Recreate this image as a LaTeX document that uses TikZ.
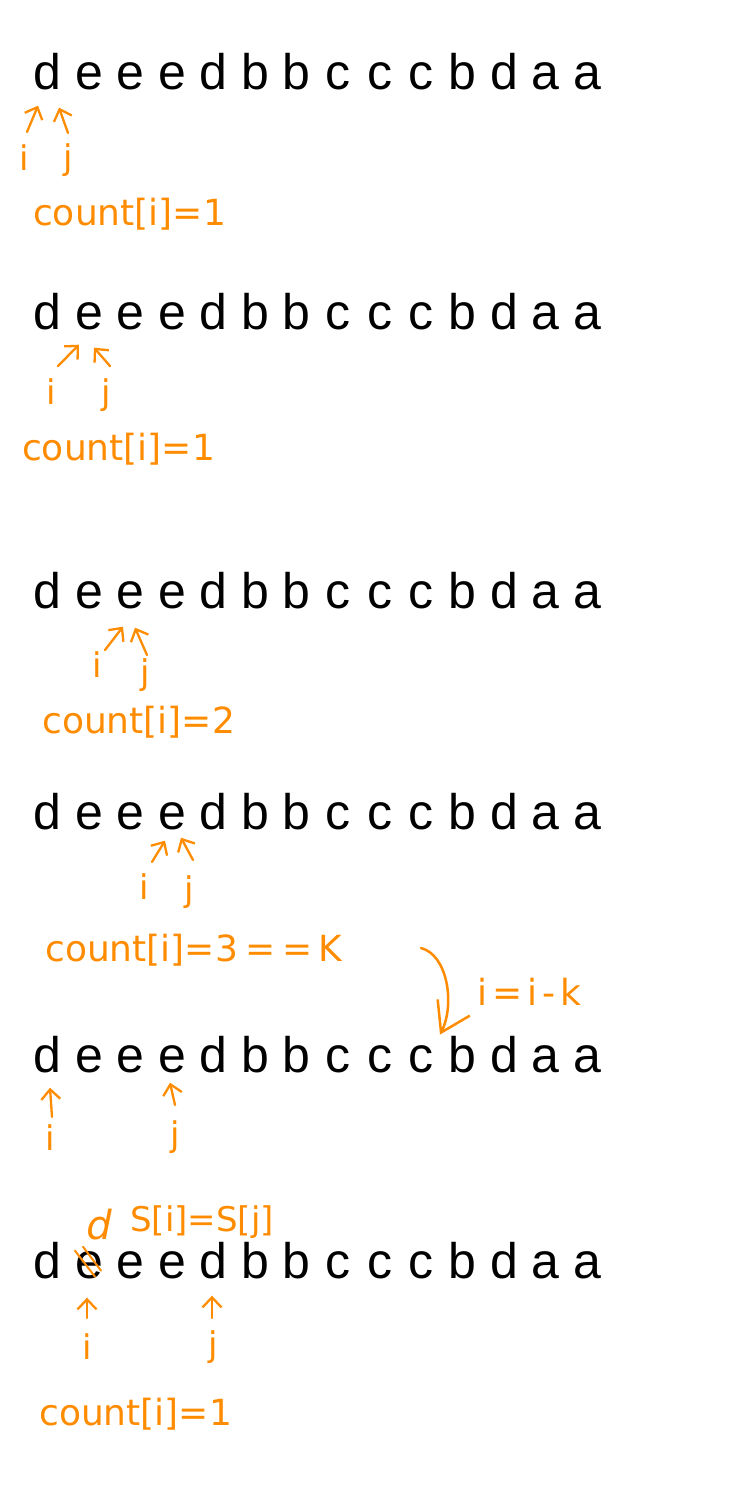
\documentclass[tikz,border=0pt]{standalone}
\usepackage{fontspec}
\setmainfont{Liberation Sans}
\newfontfamily\handfont{DejaVu Sans}
\usetikzlibrary{arrows.meta,calc}
\definecolor{hcol}{RGB}{255,140,0}

\begin{document}
\begin{tikzpicture}[x=1pt,y=-1pt,
        chr/.style={anchor=base,inner sep=0pt,font=\fontsize{50}{60}\selectfont},
        hw/.style={text=hcol,inner sep=0pt,font=\handfont\fontsize{36}{42}\selectfont},
        lbl/.style={text=hcol,inner sep=0pt,font=\handfont\fontsize{34}{40}\selectfont},
        ptr/.style={hcol,line width=2.3pt,line cap=round,-{Straight Barb[length=10pt,width=19pt]}},
        bigptr/.style={hcol,line width=2.5pt,line cap=round,-{Straight Barb[length=28pt,width=36pt]}}]
        \useasboundingbox (0,0) rectangle (732,1500);
        \foreach \r/\y in {1/89,2/329,3/608,4/829,5/1072,6/1278}
            \foreach \c [count=\k from 0] in {d,e,e,e,d,b,b,c,c,c,b,d,a,a}
                \node[chr] (r\r-\k) at (47.5+41.5*\k,\y) {\c};
        \node[lbl] (i1) at (24,158) {i};
        \node[lbl] (j1) at (68,160) {j};
        \node[lbl] (i2) at (51,392) {i};
        \node[lbl] (j2) at (106,395) {j};
        \node[lbl] (i3) at (97,665) {i};
        \node[lbl] (j3) at (145,675) {j};
        \node[lbl] (i4) at (144,887) {i};
        \node[lbl] (j4) at (189,892) {j};
        \node[lbl] (i5) at (50,1138) {i};
        \node[lbl] (j5) at (175,1137) {j};
        \node[lbl] (i6) at (87,1347) {i};
        \node[lbl] (j6) at (213,1347) {j};
        \draw[ptr] ($(i1)+(3,-26)$) -- ($(r1-0.south)+(-9.5,16)$);
        \draw[ptr] ($(j1)+(0,-27)$) -- ($(r1-1.south)+(-30,18)$);
        \draw[ptr] ($(i2)+(7,-26)$) -- ($(r2-1.south)+(-10,15)$);
        \draw[ptr] ($(j2)+(4,-29)$) -- ($(r2-1.south)+(5,18)$);
        \draw[ptr] ($(i3)+(8,-15)$) -- ($(r3-2.south)+(-7.5,18)$);
        \draw[ptr] ($(j3)+(2,-20)$) -- ($(r3-2.south)+(4.5,19)$);
        \draw[ptr] ($(i4)+(8,-25)$) -- ($(r4-3.south)+(-7,11)$);
        \draw[ptr] ($(j4)+(4,-32)$) -- ($(r4-3.south)+(9,8)$);
        \draw[ptr] ($(i5)+(2,-21)$) -- ($(r5-0.south)+(2.5,15)$);
        \draw[ptr] ($(j5)+(0,-32)$) -- ($(r5-3.south)+(-2,10)$);
        \draw[ptr] ($(i6)+(0,-29)$) -- ($(r6-1.south)+(-2,19)$);
        \draw[ptr] ($(j6)+(-1,-29)$) -- ($(r6-4.south)+(-1.5,17)$);
        \node[hw,anchor=west] (cnt1) at (33,214) {count[i]=1};
        \node[hw,anchor=west] (cnt2) at (22,449) {count[i]=1};
        \node[hw,anchor=west] (cnt3) at (42,722) {count[i]=2};
        \node[hw,anchor=west] (cnt4) at (45,950) {count[i]=3\kern8pt=\kern6pt=\kern6pt K};
        \node[hw,anchor=west] (cnt6) at (39,1414) {count[i]=1};
        \node[hw,anchor=west] (upd) at (477,992) {i\kern5pt=\kern5pt i\kern5pt-\kern5pt k};
        \node[hw,anchor=west,font=\handfont\fontsize{34}{40}\selectfont] (eq6) at (130,1222) {S[i]=S[j]};
        \node[hw,font=\handfont\addfontfeature{FakeSlant=0.2}\fontsize{40}{46}\selectfont] (dfix) at (97,1225) {d};
        \coordinate (bend) at (421,948);
        \draw[bigptr] (bend) .. controls (448,955) and (455,1005) .. ($(r5-10.north)+(-22.5,-1)$);
        \draw[hcol,line width=2pt,line cap=round] ($(r6-1.south)+(-14,-28)$) -- ($(r6-1.south)+(6,-2)$);
        \draw[hcol,line width=2pt,line cap=round] ($(r6-1.south)+(-6,-32)$) -- ($(r6-1.south)+(12,-8)$);
\end{tikzpicture}
\end{document}
